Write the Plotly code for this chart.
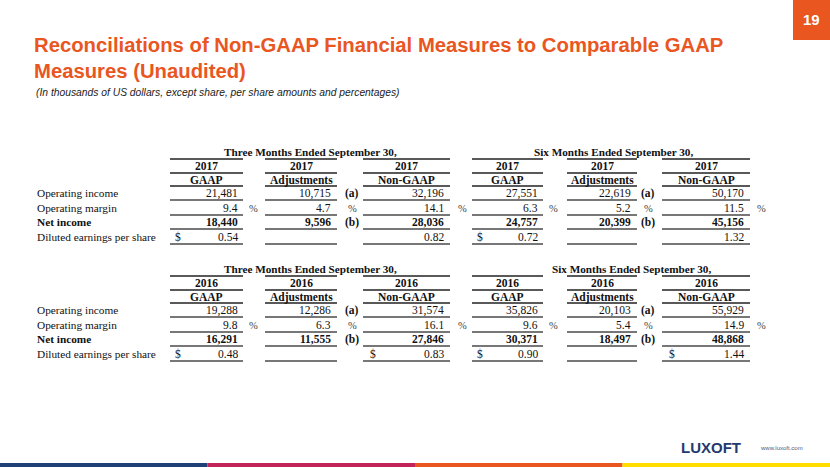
import plotly.graph_objects as go

# ---------------- data ----------------
row_labels = ["Operating income", "Operating margin", "Net income", "Diluted earnings per share"]
col_labels = ["GAAP", "Adjustments", "Non-GAAP"]
period_labels = ["Three Months Ended September 30,", "Six Months Ended September 30,"]
years = ["2017", "2016"]

# 2017
q3_2017_gaap = [21481, 9.4, 18440, 0.54]
q3_2017_adj = [10715, 4.7, 9596, None]
q3_2017_non = [32196, 14.1, 28036, 0.82]
h1_2017_gaap = [27551, 6.3, 24757, 0.72]
h1_2017_adj = [22619, 5.2, 20399, None]
h1_2017_non = [50170, 11.5, 45156, 1.32]
# 2016
q3_2016_gaap = [19288, 9.8, 16291, 0.48]
q3_2016_adj = [12286, 6.3, 11555, None]
q3_2016_non = [31574, 16.1, 27846, 0.83]
h1_2016_gaap = [35826, 9.6, 30371, 0.90]
h1_2016_adj = [20103, 5.4, 18497, None]
h1_2016_non = [55929, 14.9, 48868, 1.44]

adj_notes = ["(a)", "%", "(b)", ""]
nongaap_dollar = {"2017": False, "2016": True}

title = "Reconciliations of Non-GAAP Financial Measures to Comparable GAAP<br>Measures (Unaudited)"
subtitle = "(In thousands of US dollars, except share, per share amounts and percentages)"
page_no = "19"

# ---------------- styling / layout ----------------
W, H = 830, 467
ORANGE = "#E9561F"
SERIF = "Liberation Serif"
SANS = "Liberation Sans"

fig = go.Figure()
ann = []
shapes = []


def fmt(v, row):
    if v is None:
        return ""
    if row in (0, 2):
        return f"{int(v):,}"
    return f"{v:.1f}" if row == 1 else f"{v:.2f}"


def text(x, y, s, size=11.5, bold=False, anchor="left", color="#111", family=SERIF, italic=False):
    if bold:
        s = f"<b>{s}</b>"
    if italic:
        s = f"<i>{s}</i>"
    ann.append(dict(x=x, y=y, xref="x", yref="y", text=s, showarrow=False,
                    xanchor=anchor, yanchor="middle",
                    font=dict(family=family, size=size, color=color)))


def hline(x0, x1, y, w=1.0, color="#333"):
    shapes.append(dict(type="line", xref="x", yref="y", x0=x0, x1=x1, y0=y, y1=y,
                       line=dict(color=color, width=w)))


# column geometry for each period block: (left, right, value right edge)
blocks = [
    dict(cols=[(170, 243, 240), (265, 337, 333), (363, 450, 446)],
         pct=[253, None, 462], note=352),
    dict(cols=[(472, 543, 540), (567, 637, 633), (662, 750, 746)],
         pct=[553, None, 761], note=648),
]

tables = [
    dict(year="2017", y0=0,
         data=[[q3_2017_gaap, q3_2017_adj, q3_2017_non], [h1_2017_gaap, h1_2017_adj, h1_2017_non]],
         hdr_x=[310, 613]),
    dict(year="2016", y0=117,
         data=[[q3_2016_gaap, q3_2016_adj, q3_2016_non], [h1_2016_gaap, h1_2016_adj, h1_2016_non]],
         hdr_x=[310, 631]),
]

for t in tables:
    d = t["y0"]
    y_hdr, y_year, y_lab = 152 + d, 166 + d, 180 + d
    row_y = [193 + d, 208 + d, 222 + d, 237 + d]
    line_y = [159 + d, 173 + d, 186 + d, 200 + d, 215 + d, 229 + d, 244 + d]
    for r, lab in enumerate(row_labels):
        text(35, row_y[r], lab, bold=(r == 2), size=11.3)
    for b, blk in enumerate(blocks):
        text(t["hdr_x"][b], y_hdr, period_labels[b], bold=True, anchor="center", size=11.2)
        for c, (x0, x1, xr) in enumerate(blk["cols"]):
            xc = (x0 + x1) / 2
            text(xc, y_year, t["year"], bold=True, anchor="center", size=11.5)
            text(xc, y_lab, col_labels[c], bold=True, anchor="center", size=11.5)
            hline(x0, x1, line_y[0], 1.3, "#222")
            hline(x0, x1, line_y[1], 1.3, "#222")
            hline(x0, x1, line_y[2], 1.3, "#222")
            for r in range(4):
                hline(x0, x1, line_y[3 + r], 2.2, "#777")
                v = t["data"][b][c][r]
                s = fmt(v, r)
                if s:
                    text(xr, row_y[r], s, bold=(r == 2), anchor="right")
                if r == 1 and blk["pct"][c] is not None:
                    text(blk["pct"][c], row_y[r], "%", anchor="center", size=10.5, color="#444")
            # dollar signs
            if c == 0:
                text(x0 + 8, row_y[3], "$", anchor="center")
            if c == 2 and nongaap_dollar[t["year"]]:
                text(x0 + 10, row_y[3], "$", anchor="center")
        for r, note in enumerate(adj_notes):
            if note:
                text(blk["note"], row_y[r], note, bold=(note != "%"), anchor="center",
                     size=10.5 if note == "%" else 11.5, color="#444" if note == "%" else "#111")

# title & subtitle
ann.append(dict(x=32, y=57.5, xref="x", yref="y", text=f"<b>{title}</b>", showarrow=False,
                xanchor="left", yanchor="middle", align="left",
                font=dict(family=SANS, size=20.3, color=ORANGE)))
text(34, 92, subtitle, size=10.3, italic=True, family=SANS, color="#222")

# page number box
shapes.append(dict(type="rect", xref="x", yref="y", x0=793, x1=830, y0=0, y1=40,
                   fillcolor=ORANGE, line=dict(width=0)))
text(811.5, 19, page_no, size=15, bold=True, family=SANS, color="white", anchor="center")

# footer bars
bar_cols = ["#1F3F77", "#C2245A", ORANGE, "#FFDD00"]
for i, col in enumerate(bar_cols):
    shapes.append(dict(type="rect", xref="x", yref="y", x0=i * W / 4, x1=(i + 1) * W / 4,
                       y0=463, y1=467, fillcolor=col, line=dict(width=0)))
text(711, 447, "LUXOFT", size=15, bold=True, family=SANS, color="#1F3A6E", anchor="center")
text(781, 448, "www.luxoft.com", size=6, family=SANS, color="#4A5A7A", anchor="center")

fig.update_layout(
    width=W, height=H, margin=dict(l=0, r=0, t=0, b=0),
    paper_bgcolor="white", plot_bgcolor="white",
    xaxis=dict(range=[0, W], visible=False, fixedrange=True),
    yaxis=dict(range=[H, 0], visible=False, fixedrange=True),
    annotations=ann, shapes=shapes, showlegend=False,
)

fig.write_html("out.html", config={"displayModeBar": False},
               post_script="document.body.style.margin='0';document.body.style.overflow='hidden';")
